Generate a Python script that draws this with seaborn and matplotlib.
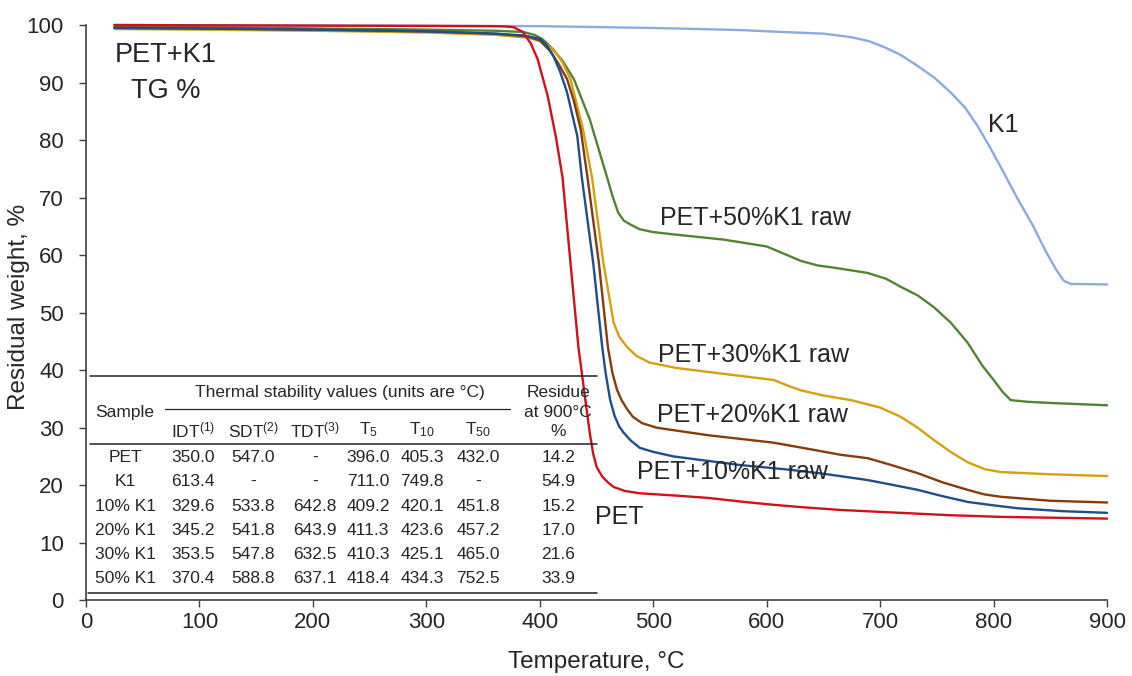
import pandas as pd
import seaborn as sns
import matplotlib.pyplot as plt

# TG curves (temperature in degC, residual weight in %)
pet_t = [25, 100, 200, 300, 360, 370, 377, 385, 392, 398, 407, 414, 420, 427, 434, 440,
         444, 447, 450, 455, 460, 465, 475, 488, 520, 548, 580, 606, 630, 665, 718, 760,
         806, 900]
pet_w = [100, 99.95, 99.9, 99.85, 99.8, 99.75, 99.6, 98.8, 96.8, 94.1, 87.6, 80.7, 73.5,
         58.7, 44, 35, 29.1, 25.5, 23.2, 21.5, 20.5, 19.7, 19, 18.6, 18.2, 17.8, 17.1,
         16.6, 16.2, 15.7, 15.2, 14.8, 14.5, 14.2]

k10_t = [25, 100, 200, 300, 360, 385, 400, 406, 412, 418, 424, 433, 437, 447, 455, 458,
         462, 466, 470, 474, 480, 488, 500, 518, 577, 620, 650, 689, 710, 733, 755, 777,
         800, 821, 860, 900]
k10_w = [99.5, 99.4, 99.2, 98.9, 98.5, 98.2, 97.6, 96.5, 94.6, 91.8, 88.3, 80.7, 73.5,
         58.7, 44, 39.5, 34.8, 32, 30.2, 29.1, 27.8, 26.5, 25.8, 25, 23.5, 22.7, 22, 20.9,
         20.1, 19.2, 18.1, 17.1, 16.5, 16, 15.5, 15.2]

k20_t = [25, 100, 200, 300, 360, 390, 400, 409, 416, 424, 430, 436, 442, 452, 460, 464,
         468, 472, 477, 482, 490, 503, 548, 606, 640, 665, 689, 710, 733, 755, 777, 792,
         806, 850, 900]
k20_w = [99.5, 99.4, 99.2, 98.9, 98.5, 98, 97.3, 95.5, 93.4, 90.6, 86.8, 81.9, 73.5, 58.7,
         44, 39.5, 36.6, 34.8, 33.2, 31.9, 30.8, 30, 28.7, 27.4, 26.2, 25.3, 24.7, 23.5,
         22.1, 20.5, 19.2, 18.4, 18, 17.3, 17.0]

k30_t = [25, 100, 200, 300, 360, 390, 400, 412, 420, 427, 438, 446, 456, 465, 470, 477,
         485, 497, 520, 548, 606, 620, 630, 650, 674, 700, 718, 733, 747, 762, 777, 792,
         806, 850, 900]
k30_w = [99.3, 99.2, 99, 98.7, 98.3, 97.8, 97.2, 95.8, 93.5, 90.6, 81.9, 73.5, 58.7, 48.3,
         45.8, 44, 42.5, 41.3, 40.4, 39.7, 38.3, 37.2, 36.5, 35.6, 34.8, 33.5, 31.9, 30,
         27.9, 25.8, 24, 22.8, 22.3, 21.9, 21.6]

k50_t = [25, 100, 200, 300, 360, 385, 395, 402, 409, 420, 430, 444, 459, 464, 469, 474,
         480, 488, 500, 518, 562, 600, 630, 645, 660, 689, 705, 718, 733, 747, 762, 777,
         790, 800, 808, 815, 830, 850, 900]
k50_w = [99.7, 99.6, 99.4, 99.2, 99, 98.8, 98.3, 97.6, 96.3, 93.8, 90.6, 83.6, 73.7, 70.3,
         67.4, 66, 65.3, 64.5, 64, 63.6, 62.7, 61.5, 59, 58.2, 57.8, 56.9, 55.9, 54.5, 53,
         51, 48.3, 44.8, 40.8, 38.3, 36.2, 34.8, 34.5, 34.3, 33.9]

k1_t = [25, 200, 400, 495, 541, 580, 612, 650, 674, 690, 703, 718, 733, 748, 762, 775,
        786, 796, 806, 820, 835, 845, 855, 862, 868, 900]
k1_w = [100, 99.9, 99.8, 99.5, 99.3, 99.1, 98.8, 98.5, 97.9, 97.2, 96.2, 94.8, 92.9, 90.8,
        88.3, 85.6, 82.4, 79, 75.4, 70.2, 65, 61, 57.5, 55.5, 55.0, 54.9]

# thermal stability table
tab_samples = ['PET', 'K1', '10% K1', '20% K1', '30% K1', '50% K1']
tab_idt = ['350.0', '613.4', '329.6', '345.2', '353.5', '370.4']
tab_sdt = ['547.0', '-', '533.8', '541.8', '547.8', '588.8']
tab_tdt = ['-', '-', '642.8', '643.9', '632.5', '637.1']
tab_t5 = ['396.0', '711.0', '409.2', '411.3', '410.3', '418.4']
tab_t10 = ['405.3', '749.8', '420.1', '423.6', '425.1', '434.3']
tab_t50 = ['432.0', '-', '451.8', '457.2', '465.0', '752.5']
tab_res = ['14.2', '54.9', '15.2', '17.0', '21.6', '33.9']

series = [
    ('K1', k1_t, k1_w),
    ('PET+50%K1 raw', k50_t, k50_w),
    ('PET+30%K1 raw', k30_t, k30_w),
    ('PET+20%K1 raw', k20_t, k20_w),
    ('PET+10%K1 raw', k10_t, k10_w),
    ('PET', pet_t, pet_w),
]
rows = []
for name, ts, ws in series:
    for t, w in zip(ts, ws):
        rows.append({'sample': name, 'temp': t, 'weight': w})
df = pd.DataFrame(rows)

palette = {
    'K1': '#8EA9DB',
    'PET+50%K1 raw': '#548235',
    'PET+30%K1 raw': '#D4A010',
    'PET+20%K1 raw': '#843C0C',
    'PET+10%K1 raw': '#1F4E88',
    'PET': '#D0101C',
}

sns.set_style("ticks")
plt.rcParams['font.family'] = ['Liberation Sans', 'DejaVu Sans']
plt.rcParams['mathtext.default'] = 'regular'

fig, ax = plt.subplots(figsize=(11.32, 6.76), dpi=100)
fig.subplots_adjust(left=0.076, right=0.978, bottom=0.112, top=0.963)

sns.lineplot(data=df, x='temp', y='weight', hue='sample', palette=palette,
             hue_order=[s[0] for s in series], estimator=None, sort=False,
             linewidth=1.7, legend=False, ax=ax)
for line in ax.lines:
    line.set_clip_on(False)
    line.set_solid_joinstyle('round')

ax.set_xlim(0, 900)
ax.set_ylim(0, 100)
ax.set_xticks(range(0, 901, 100))
ax.set_yticks(range(0, 101, 10))
ax.tick_params(labelsize=16, length=5, width=1, color='#404040', direction='out')
ax.tick_params(axis='y', pad=11)
for side in ['left', 'bottom']:
    ax.spines[side].set_color('#404040')
    ax.spines[side].set_linewidth(1.2)
sns.despine(ax=ax)
ax.set_xlabel('Temperature, °C', fontsize=17.5)
ax.set_ylabel('Residual weight, %', fontsize=17.5)
ax.xaxis.set_label_coords(0.5, -0.088)
ax.yaxis.set_label_coords(-0.055, 0.51)

# curve labels
fs = 18
ax.text(70, 94.8, 'PET+K1', fontsize=19.5, ha='center', va='center')
ax.text(70, 88.6, 'TG %', fontsize=19.5, ha='center', va='center')
ax.text(795, 82.6, 'K1', fontsize=fs, va='center')
ax.text(506, 66.5, 'PET+50%K1 raw', fontsize=fs, va='center')
ax.text(504, 42.7, 'PET+30%K1 raw', fontsize=fs, va='center')
ax.text(503, 32.2, 'PET+20%K1 raw', fontsize=fs, va='center')
ax.text(486, 22.3, 'PET+10%K1 raw', fontsize=fs, va='center')
ax.text(449, 14.5, 'PET', fontsize=fs, va='center')

# table
tfs = 12.5
lc = '#222222'
ax.plot([3.5, 450.6], [39.0, 39.0], color=lc, lw=1.1, clip_on=False)
ax.plot([69.7, 374], [33.3, 33.3], color=lc, lw=0.9)
ax.plot([3.5, 450.6], [27.2, 27.2], color=lc, lw=1.1)
ax.plot([1.8, 450.6], [1.2, 1.2], color=lc, lw=1.1)
ax.text(224, 36.1, 'Thermal stability values (units are °C)', fontsize=tfs, ha='center', va='center')
ax.text(34.4, 32.6, 'Sample', fontsize=tfs, ha='center', va='center')
ax.text(416.2, 36.1, 'Residue', fontsize=tfs, ha='center', va='center')
ax.text(416.2, 32.6, 'at 900°C', fontsize=tfs, ha='center', va='center')
ax.text(416.2, 29.3, '%', fontsize=tfs, ha='center', va='center')
col_x = [94.4, 147.3, 201.9, 248.7, 296.3, 345.7]
heads = ['IDT$^{(1)}$', 'SDT$^{(2)}$', 'TDT$^{(3)}$', 'T$_{5}$', 'T$_{10}$', 'T$_{50}$']
for cx, h in zip(col_x, heads):
    ax.text(cx, 29.6, h, fontsize=tfs, ha='center', va='center')
row_y = [24.9, 20.7, 16.3, 12.1, 8.0, 3.8]
cols = [tab_idt, tab_sdt, tab_tdt, tab_t5, tab_t10, tab_t50]
for i, ry in enumerate(row_y):
    ax.text(34.4, ry, tab_samples[i], fontsize=tfs, ha='center', va='center')
    for cx, col in zip(col_x, cols):
        ax.text(cx, ry, col[i], fontsize=tfs, ha='center', va='center')
    ax.text(416.2, ry, tab_res[i], fontsize=tfs, ha='center', va='center')

plt.savefig('out.png', dpi=100)
